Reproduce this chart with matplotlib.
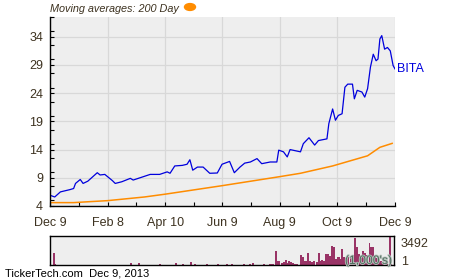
import datetime as dt
import matplotlib
matplotlib.use("Agg")
from matplotlib import pyplot as plt
from matplotlib import patheffects
from matplotlib.ticker import MultipleLocator

plt.rcParams['font.family'] = ['Liberation Sans', 'DejaVu Sans']

start = dt.datetime(2012, 12, 9)

# BITA closing price (day offset from Dec 9 2012)
price_days = [0, 5, 11, 21, 25, 27, 32, 35, 40, 50, 53, 58, 66, 69, 76, 85, 88, 97,
              106, 116, 124, 127, 132, 140, 145, 148, 151, 156, 162, 169, 177, 182,
              190, 195, 201, 206, 212, 219, 224, 233, 240, 242, 247, 251, 254, 265,
              268, 274, 280, 284, 293, 295, 299, 302, 305, 309, 312, 315, 320, 322,
              325, 330, 333, 336, 339, 342, 345, 347, 349, 351, 354, 357, 360, 363, 365]
price = [5.9, 5.6, 6.5, 6.9, 7.1, 8.0, 8.7, 8.0, 8.4, 9.9, 9.5, 9.6, 8.5, 8.0, 8.3,
         8.9, 8.6, 9.1, 9.6, 9.6, 10.05, 9.8, 11.1, 11.2, 11.4, 12.2, 10.35, 10.9,
         10.9, 9.8, 9.85, 11.4, 11.9, 9.9, 10.9, 11.6, 11.8, 12.4, 11.5, 11.8, 11.8,
         13.9, 13.6, 12.7, 14.0, 13.6, 15.05, 16.1, 14.8, 15.6, 15.9, 18.6, 21.2,
         19.2, 20.05, 20.35, 25.05, 25.6, 25.6, 23.0, 24.5, 24.2, 23.3, 24.8, 28.6,
         30.9, 29.75, 30.05, 33.6, 34.2, 31.8, 32.1, 31.5, 28.9, 28.3]

# 200 day moving average
ma_days = [0, 25, 40, 61, 100, 122, 182, 243, 265, 299, 336, 349, 362]
ma = [4.6, 4.6, 4.75, 4.95, 5.6, 6.1, 7.6, 9.2, 9.8, 11.1, 12.9, 14.4, 15.1]

# volume in 1,000's
vol_days = [4, 5, 86, 94, 117, 134, 141, 150, 154, 167, 178, 188, 193, 206, 212, 215,
            227, 233, 235, 237, 240, 241, 243, 246, 248, 250, 252, 254, 256, 258, 260,
            262, 266, 268, 270, 272, 274, 276, 278, 280, 283, 285, 287, 289, 291, 293,
            295, 297, 299, 301, 303, 305, 307, 309, 310, 312, 314, 316, 319, 321, 323,
            324, 326, 328, 330, 332, 334, 336, 339, 341, 343, 345, 347, 349, 351, 353,
            356, 358, 361, 362]
vol = [1450, 120, 240, 240, 120, 240, 120, 360, 120, 120, 120, 120, 120, 120, 120, 240,
       120, 120, 120, 120, 1720, 440, 440, 200, 320, 600, 200, 520, 360, 280, 150,
       150, 1240, 920, 520, 440, 1440, 520, 360, 520, 360, 1440, 440, 600, 520, 1320,
       1320, 1120, 2320, 2200, 720, 920, 920, 720, 1920, 920, 840, 1000, 920, 840, 1240,
       3240, 2120, 1320, 840, 1640, 1480, 1240, 2600, 2120, 2200, 920, 840, 1000, 520,
       320, 520, 320, 3492, 120]

ticks = ["2012-12-09", "2013-02-08", "2013-04-10", "2013-06-09",
         "2013-08-09", "2013-10-09", "2013-12-09"]
tick_labels = ["Dec 9", "Feb 8", "Apr 10", "Jun 9", "Aug 9", "Oct 9", "Dec 9"]

text_col = "#3d3220"
bg = "#eeeeee"

def to_dates(days):
    return [start + dt.timedelta(days=d) for d in days]

tick_dates = [dt.datetime.strptime(t, "%Y-%m-%d") for t in ticks]
minor_dates = [a + (b - a) / 2 for a, b in zip(tick_dates[:-1], tick_dates[1:])]
xmin, xmax = tick_dates[0], tick_dates[-1]

fig = plt.figure(figsize=(4.5, 2.8), dpi=100)

# main price panel
ax = fig.add_axes([50 / 450, 1 - 206 / 280, 345 / 450, 189 / 280])
ax.set_facecolor(bg)
ax.plot(to_dates(ma_days), ma, color="#ff8c00", lw=1.1)
ax.plot(to_dates(price_days), price, color="#0000dd", lw=0.9)
ax.set_xlim(xmin, xmax)
ax.set_ylim(4, 37.5)
ax.set_yticks([4, 9, 14, 19, 24, 29, 34])
ax.yaxis.set_minor_locator(MultipleLocator(2.5))
ax.set_xticks(tick_dates)
ax.set_xticklabels(tick_labels)
ax.set_xticks(minor_dates, minor=True)
ax.grid(True, which="major", color="#d8d8d8", lw=0.9)
ax.set_axisbelow(True)
for s in ["top", "right"]:
    ax.spines[s].set_visible(False)
for s in ["left", "bottom"]:
    ax.spines[s].set_linewidth(1.0)
ax.tick_params(which="both", direction="in", length=3, width=0.8, colors="black",
               labelcolor=text_col, labelsize=9)
ax.tick_params(axis="x", pad=8)
ax.tick_params(axis="y", pad=5)
ax.text(1.005, (28.3 - 4) / 33.5, "BITA", transform=ax.transAxes, color="#0000dd",
        fontsize=9, va="center", ha="left")

# title
fig.text(50 / 450, 1 - 9 / 280, "Moving averages: 200 Day", fontsize=7.8,
         style="italic", color=text_col, va="center", ha="left")
fig.patches.append(plt.Circle((190 / 450, 1 - 7 / 280), 5.5 / 450, color="#ff8c00",
                              transform=fig.transFigure, figure=fig))

# volume panel
vx = fig.add_axes([50 / 450, 1 - 265 / 280, 344 / 450, 29 / 280])
vx.set_facecolor(bg)
vx.bar(to_dates(vol_days), vol, width=2.0, color="#993366", align="center")
vx.set_xlim(xmin, xmax)
vx.set_ylim(0, 3492)
vx.set_xticks([])
vx.set_yticks([])
for s in vx.spines.values():
    s.set_linewidth(1.0)
vx.text(1.02, 0.72, "3492", transform=vx.transAxes, fontsize=9, color=text_col,
        va="center", ha="left")
vx.text(1.02, 0.11, "1", transform=vx.transAxes, fontsize=9, color=text_col,
        va="center", ha="left")
vx.text(0.995, 0.14, "(1,000's)", transform=vx.transAxes, fontsize=8.8,
        color="#4f6b5d", va="center", ha="right", zorder=10,
        path_effects=[patheffects.withStroke(linewidth=1.2, foreground="#b9c4be")])

fig.text(5 / 450, 1 - 274 / 280, "TickerTech.com  Dec 9, 2013", fontsize=8,
         color="black", va="center", ha="left")

fig.savefig("out.png", dpi=100)
